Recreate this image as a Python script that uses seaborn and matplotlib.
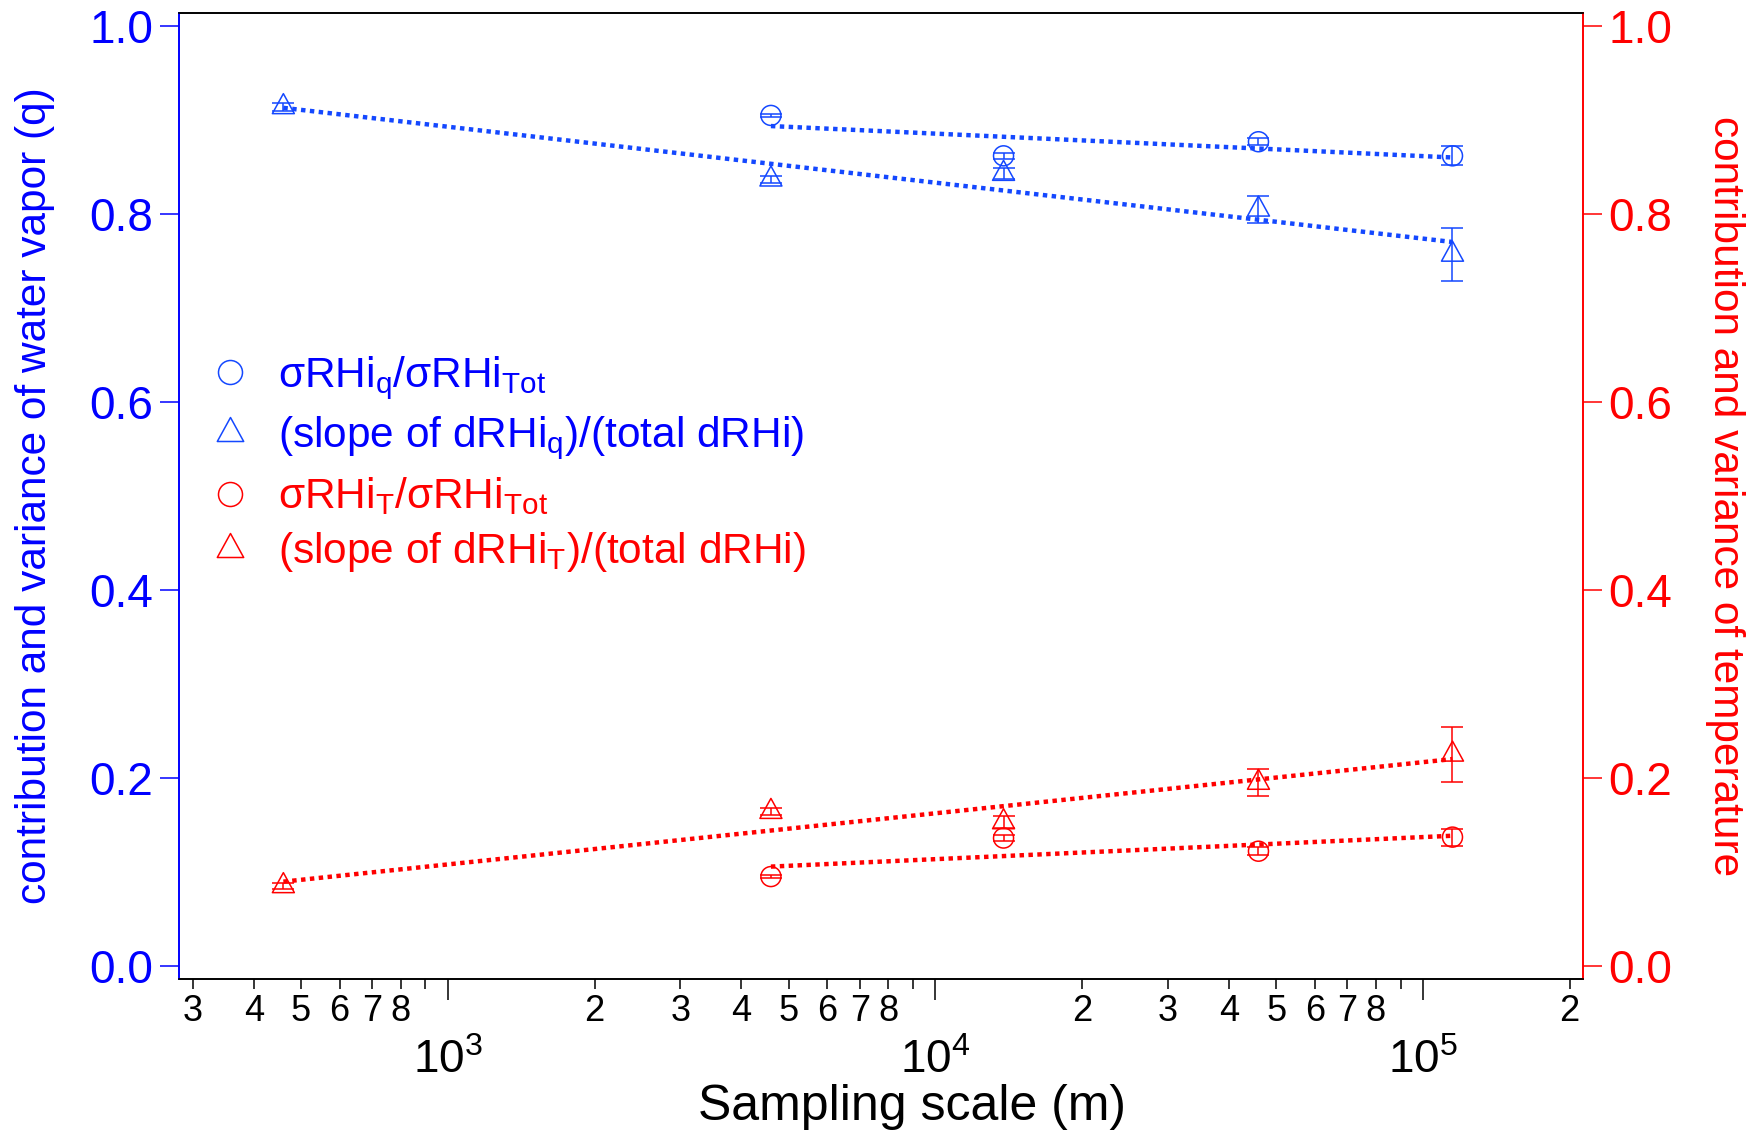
import numpy as np
import matplotlib
matplotlib.use("Agg")
import matplotlib.pyplot as plt
from matplotlib.path import Path
from matplotlib.lines import Line2D
from matplotlib.ticker import LogLocator, FuncFormatter, LogFormatterMathtext
import seaborn as sns

# Sampling scales (m)
scale_m = [460, 4600, 13800, 46000, 115000]
scale_sigma_m = [4600, 13800, 46000, 115000]

# Water-vapour (q) contribution
sigma_q = [0.905, 0.862, 0.877, 0.862]
sigma_q_err = [0.002, 0.003, 0.004, 0.010]
slope_q = [0.914, 0.837, 0.843, 0.805, 0.757]
slope_q_err = [0.004, 0.004, 0.006, 0.014, 0.028]

# Temperature (T) contribution
sigma_T = [0.095, 0.136, 0.122, 0.137]
sigma_T_err = [0.002, 0.003, 0.004, 0.009]
slope_T = [0.085, 0.164, 0.153, 0.195, 0.225]
slope_T_err = [0.003, 0.004, 0.006, 0.014, 0.029]

legend_labels = [
    r"σRHi$_{q}$/σRHi$_{Tot}$",
    r"(slope of dRHi$_{q}$)/(total dRHi)",
    r"σRHi$_{T}$/σRHi$_{Tot}$",
    r"(slope of dRHi$_{T}$)/(total dRHi)",
]

sns.set_theme(style="ticks")
plt.rcParams["font.family"] = ["Liberation Sans", "DejaVu Sans"]
plt.rcParams["mathtext.fontset"] = "custom"
plt.rcParams["mathtext.rm"] = "Liberation Sans"
plt.rcParams["mathtext.it"] = "Liberation Sans"
plt.rcParams["mathtext.default"] = "regular"

BLUE_TXT = "#0000ff"
BLUE = "#1448ff"
RED = "#ff0000"

# open triangle whose centroid sits on the data point
tri = Path([(0, 2 / 3), (-0.55, -1 / 3), (0.55, -1 / 3), (0, 2 / 3)],
           [Path.MOVETO, Path.LINETO, Path.LINETO, Path.CLOSEPOLY])

fig = plt.figure(figsize=(17.52, 11.33), dpi=100)
ax = fig.add_axes([179 / 1752, 1 - 979 / 1133, (1583 - 179) / 1752, (979 - 13) / 1133])
ax2 = ax.twinx()

ms_circ = 14.4
ms_tri = 19.2
cap = 7.7
elw = 1.1


def draw_series(axis, x, y, err, color, marker, ms):
    axis.errorbar(x, y, yerr=err, fmt="none", ecolor=color, elinewidth=elw,
                  capsize=cap, capthick=elw, zorder=3)
    sns.scatterplot(x=x, y=y, ax=axis, marker=marker, s=ms ** 2,
                    facecolor="none", edgecolor=color, linewidth=1.1, zorder=4)
    sns.regplot(x=np.array(x, float), y=np.array(y, float), ax=axis, logx=True,
                ci=None, scatter=False, truncate=True,
                line_kws=dict(color=color, lw=3.2, ls=(0, (1, 1)),
                              dash_capstyle="butt", zorder=5))


draw_series(ax, scale_sigma_m, sigma_q, sigma_q_err, BLUE, "o", ms_circ)
draw_series(ax, scale_m, slope_q, slope_q_err, BLUE, tri, ms_tri)
draw_series(ax2, scale_sigma_m, sigma_T, sigma_T_err, RED, "o", ms_circ)
draw_series(ax2, scale_m, slope_T, slope_T_err, RED, tri, ms_tri)

for a in (ax, ax2):
    a.set_xscale("log")
    a.set_xlim(281, 2.13e5)
    a.set_ylim(-0.014, 1.014)
    a.set_yticks([0.0, 0.2, 0.4, 0.6, 0.8, 1.0])
    a.yaxis.set_major_formatter(FuncFormatter(lambda v, p: f"{v:.1f}"))
    a.set_xlabel("")
    a.set_ylabel("")

# x axis: labelled minor ticks 2..8, decades drawn lower
ax.xaxis.set_major_locator(LogLocator(base=10))
ax.xaxis.set_major_formatter(LogFormatterMathtext())
ax.xaxis.set_minor_locator(LogLocator(base=10, subs=range(2, 10), numticks=20))


def minor_fmt(v, pos):
    m = v / 10 ** np.floor(np.log10(v) + 1e-9)
    m = int(round(m))
    return str(m) if 2 <= m <= 8 else ""


ax.xaxis.set_minor_formatter(FuncFormatter(minor_fmt))
ax.tick_params(axis="x", which="major", length=15, width=1.1, pad=28,
               labelsize=33, color="black", labelcolor="black", direction="out")
ax.tick_params(axis="x", which="minor", length=7, width=1.1, pad=4,
               labelsize=26, color="black", labelcolor="black", direction="out")
ax.tick_params(axis="y", which="major", length=13.5, width=1.1, pad=5,
               labelsize=33, color=BLUE_TXT, labelcolor=BLUE_TXT, direction="out")
ax.tick_params(axis="y", which="minor", length=0)
ax2.tick_params(axis="y", which="major", length=13.5, width=1.1, pad=5,
                labelsize=33, color=RED, labelcolor=RED, direction="out")
ax2.tick_params(axis="y", which="minor", length=0)

for a in (ax, ax2):
    for s in a.spines.values():
        s.set_linewidth(1.2)
        s.set_color("black")
    a.spines["left"].set_color(BLUE_TXT)
    a.spines["right"].set_color(RED)

ax.set_xlabel("Sampling scale (m)", fontsize=36, color="black")
ax.xaxis.set_label_coords(0.522, -0.109)
ax.set_ylabel("contribution and variance of water vapor (q)", fontsize=30.5,
              color=BLUE_TXT, labelpad=25)
ax2.set_ylabel("contribution and variance of temperature", fontsize=30.5,
               color=RED, rotation=270, labelpad=52)

handles = [
    Line2D([], [], ls="none", marker="o", ms=ms_circ * 1.2, mfc="none", mec=BLUE, mew=1.1),
    Line2D([], [], ls="none", marker=tri, ms=ms_tri * 1.2, mfc="none", mec=BLUE, mew=1.1),
    Line2D([], [], ls="none", marker="o", ms=ms_circ * 1.2, mfc="none", mec=RED, mew=1.1),
    Line2D([], [], ls="none", marker=tri, ms=ms_tri * 1.2, mfc="none", mec=RED, mew=1.1),
]
fig.legend(handles, legend_labels, loc="upper left",
           bbox_to_anchor=(209 / 1752, 1 - 354 / 1133), frameon=False,
           fontsize=30.5, handlelength=1.0, handletextpad=0.62, labelspacing=0.31,
           borderpad=0, borderaxespad=0,
           labelcolor=[BLUE_TXT, BLUE_TXT, RED, RED])

fig.savefig("out.png", dpi=100)
